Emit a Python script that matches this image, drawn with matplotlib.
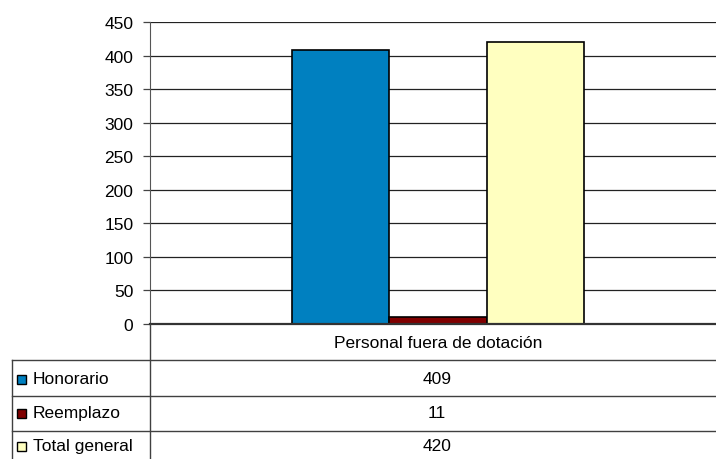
import matplotlib
matplotlib.use('Agg')
import matplotlib.pyplot as plt
from matplotlib.lines import Line2D
from matplotlib.patches import Rectangle

plt.rcParams['font.family'] = ['Liberation Sans', 'DejaVu Sans']

category = 'Personal fuera de dotación'
series = ['Honorario', 'Reemplazo', 'Total general']
values = [409, 11, 420]
colors = ['#0080C0', '#800000', '#FFFFC0']
yticks = [0, 50, 100, 150, 200, 250, 300, 350, 400, 450]

W, H = 716, 460
fig = plt.figure(figsize=(W / 100, H / 100), dpi=100)
fs = 12.5


# pixel coords (from top-left) -> figure fraction
def px(x, y):
    return x / W, 1 - y / H


ax_left, ax_right, ax_top, ax_bottom = 150, 716, 23, 325
ax = fig.add_axes([ax_left / W, 1 - ax_bottom / H, (ax_right - ax_left) / W, (ax_bottom - ax_top) / H])

width = 0.172
center = 0.009
for i, (v, c) in enumerate(zip(values, colors)):
    ax.bar(center + (i - 1) * width, v, width, color=c, edgecolor='black', linewidth=1.2, zorder=3)

ax.set_xlim(-0.5, 0.5)
ax.set_ylim(0, 450)
ax.set_yticks(yticks)
ax.set_xticks([])
ax.yaxis.grid(True, color='#222222', linewidth=0.9, zorder=0)
ax.tick_params(axis='y', length=5, width=0.9, color='#444444', labelsize=fs, pad=7)
for s in ['top', 'right', 'bottom']:
    ax.spines[s].set_visible(False)
ax.spines['left'].set_color('#555555')
ax.axhline(0, color='#333333', linewidth=1.6, zorder=4, clip_on=False)

# data table under the chart
line_col = '#404040'
row_lines = [361, 397, 432]
rows_mid = [380, 414, 447]


def hline(y, x0, x1, lw=1.0):
    fig.add_artist(Line2D([x0 / W, x1 / W], [1 - y / H, 1 - y / H], color=line_col, linewidth=lw))


def vline(x, y0, y1, lw=1.0):
    fig.add_artist(Line2D([x / W, x / W], [1 - y0 / H, 1 - y1 / H], color=line_col, linewidth=lw))


for y in row_lines:
    hline(y, 12, 716)
vline(150, 325, 460)
vline(12, 361, 460)

fig.text(*px(438, 343), category, ha='center', va='center', fontsize=fs)

for name, v, c, ym in zip(series, values, colors, rows_mid):
    fx, fy = px(17, ym + 5)
    fig.add_artist(Rectangle((fx, fy), 9 / W, 9 / H, facecolor=c, edgecolor='black', linewidth=1.0))
    fig.text(*px(33, ym), name, ha='left', va='center', fontsize=fs)
    fig.text(*px(437, ym), str(v), ha='center', va='center', fontsize=fs)

fig.savefig('out.png', dpi=100)
